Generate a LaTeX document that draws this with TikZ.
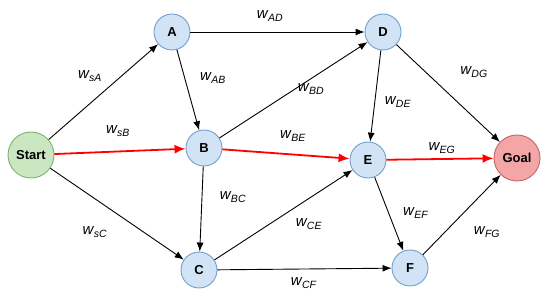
\documentclass[tikz,border=0pt]{standalone}
\usepackage{fontspec}
\setmainfont{Liberation Sans}
\usetikzlibrary{arrows.meta}

\definecolor{nodefill}{HTML}{D2E3F5}
\definecolor{nodeline}{HTML}{6E9FCF}
\definecolor{startfill}{HTML}{CBE7C2}
\definecolor{startline}{HTML}{80B070}
\definecolor{goalfill}{HTML}{F4A6A6}
\definecolor{goalline}{HTML}{C46464}

\newcommand{\wgt}[1]{\textit{w}\textsubscript{\kern-0.5pt\textit{#1}}}

\begin{document}
\begin{tikzpicture}[x=1pt, y=-1pt,
    state/.style={circle, draw=nodeline, fill=nodefill, line width=0.9pt,
        minimum size=36pt, inner sep=0pt, font=\bfseries\fontsize{13}{15}\selectfont},
    edge/.style={-{Latex[length=9pt, width=7pt]}, line width=0.9pt},
    best/.style={edge, draw=red, line width=1.8pt, -{Latex[length=11pt, width=9pt]}},
    weight/.style={font=\fontsize{15}{18}\selectfont}]

    \useasboundingbox (0,0) rectangle (550,307);

    \node[state, draw=startline, fill=startfill, minimum size=46pt] (start) at (31,155)
        {Start};

    \node[state] (a) at (172,32) {A};
    \node[state] (b) at (204,148) {B};
    \node[state] (c) at (199,270) {C};
    \node[state] (d) at (383,32) {D};
    \node[state] (e) at (368,160) {E};
    \node[state] (f) at (410,268) {F};

    \node[state, draw=goalline, fill=goalfill, minimum size=46pt] (goal) at (517,158)
        {Goal};

    \draw[edge] (start) -- (a);
    \draw[best] (start) -- (b);
    \draw[edge] (start) -- (c);

    \draw[edge] (a) -- (d);
    \draw[edge] (a) -- (b);

    \draw[edge] (b) -- (d);
    \draw[best] (b) -- (e);
    \draw[edge] (b) -- (c);

    \draw[edge] (c) -- (e);
    \draw[edge] (c) -- (f);

    \draw[edge] (d) -- (e);
    \draw[edge] (d) -- (goal);

    \draw[best] (e) -- (goal);
    \draw[edge] (e) -- (f);

    \draw[edge] (f) -- (goal);

    % weights
    \node[weight] (wsa) at (90,76) {\wgt{sA}};
    \node[weight] (wsb) at (118,131) {\wgt{sB}};
    \node[weight] (wsc) at (95,232) {\wgt{sC}};
    \node[weight] (wad) at (270,16) {\wgt{AD}};
    \node[weight] (wab) at (213,78) {\wgt{AB}};
    \node[weight] (wbd) at (311,89) {\wgt{BD}};
    \node[weight] (wde) at (398,102) {\wgt{DE}};
    \node[weight] (wdg) at (474,72) {\wgt{DG}};
    \node[weight] (wbe) at (293,136) {\wgt{BE}};
    \node[weight] (weg) at (442,148) {\wgt{EG}};
    \node[weight] (wbc) at (233,197) {\wgt{BC}};
    \node[weight] (wce) at (309,224) {\wgt{CE}};
    \node[weight] (wef) at (416,213) {\wgt{EF}};
    \node[weight] (wcf) at (304,283) {\wgt{CF}};
    \node[weight] (wfg) at (487,232) {\wgt{FG}};

\end{tikzpicture}
\end{document}
